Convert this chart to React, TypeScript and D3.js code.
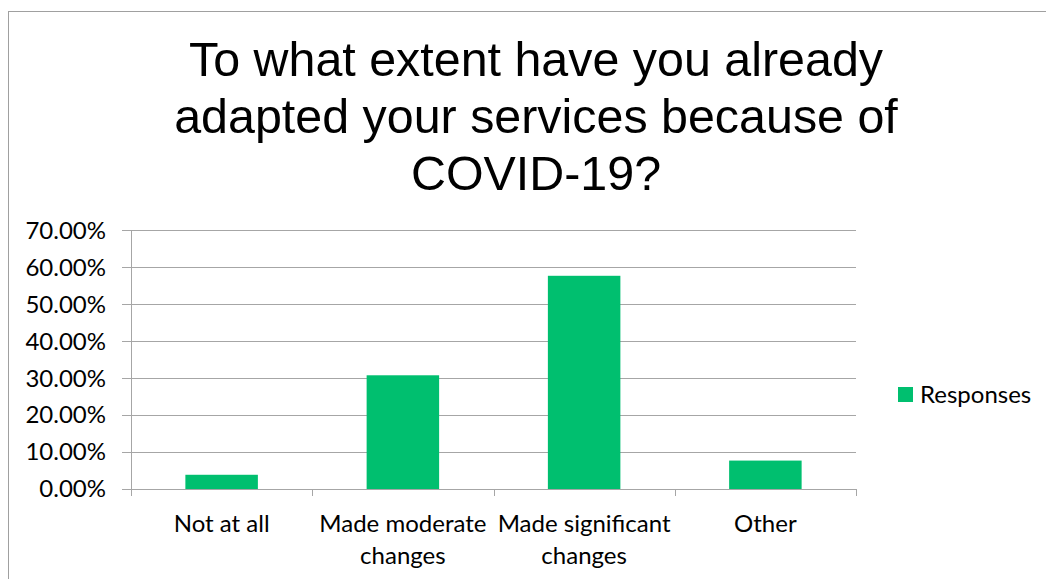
import React from "react";
import * as d3 from "d3";

const titleLines = ["To what extent have you already", "adapted your services because of", "COVID-19?"];
const categories = ["Not at all", "Made moderate changes", "Made significant changes", "Other"];
const categoryLines = [["Not at all"], ["Made moderate", "changes"], ["Made significant", "changes"], ["Other"]];
const values = [0.0385, 0.3077, 0.5769, 0.0769];
const yTicks = [0, 0.1, 0.2, 0.3, 0.4, 0.5, 0.6, 0.7];
const seriesName = "Responses";

const W = 1046;
const H = 579;
const plot = { left: 131, right: 856, top: 230.3, bottom: 489 };
const GREEN = "#00bf6f";
const GRID = "#a6a6a6";
const LABEL_FONT = "Lato, 'Open Sans', sans-serif";
const LABEL_SIZE = 24;

export default function App() {
  const x = d3.scaleBand<string>().domain(categories).range([plot.left, plot.right]).paddingInner(0.6).paddingOuter(0.3);
  const xOuter = d3.scaleBand<string>().domain(categories).range([plot.left, plot.right]);
  const y = d3.scaleLinear().domain([0, 0.7]).range([plot.bottom, plot.top]);
  const fmt = (v: number) => d3.format(".2f")(v * 100) + "%";
  return (
    <svg width={W} height={H} style={{ position: "absolute", left: 0, top: 0, background: "#fff" }}>
      <rect x={8.5} y={11.5} width={W + 20} height={H + 20} fill="#fff" stroke="#a0a0a0" strokeWidth={1} />
      <g fontFamily="'Liberation Sans', Arial, sans-serif" fontSize={48.4} fill="#000" textAnchor="middle">
        {titleLines.map((t, i) => (
          <text key={i} x={536} y={76 + i * 57}>{t}</text>
        ))}
      </g>
      {yTicks.map((t) => (
        <g key={t}>
          <line x1={122} x2={plot.right} y1={Math.round(y(t)) + 0.5} y2={Math.round(y(t)) + 0.5} stroke={GRID} strokeWidth={1} />
          <text x={106} y={y(t)} dy="0.35em" textAnchor="end" fontFamily={LABEL_FONT} fontSize={LABEL_SIZE} fill="#000">{fmt(t)}</text>
        </g>
      ))}
      <line x1={plot.left + 0.5} x2={plot.left + 0.5} y1={plot.top} y2={plot.bottom + 7} stroke={GRID} />
      {categories.map((c, i) => (
        <line key={"t" + i} x1={Math.round((xOuter(c) as number) + xOuter.bandwidth()) + 0.5} x2={Math.round((xOuter(c) as number) + xOuter.bandwidth()) + 0.5} y1={plot.bottom} y2={plot.bottom + 7} stroke={GRID} />
      ))}
      {categories.map((c, i) => (
        <rect key={"b" + i} x={x(c)} y={y(values[i])} width={x.bandwidth()} height={plot.bottom - y(values[i])} fill={GREEN} />
      ))}
      {categories.map((c, i) => (
        <text key={"l" + i} x={(xOuter(c) as number) + xOuter.bandwidth() / 2} y={532} textAnchor="middle" fontFamily={LABEL_FONT} fontSize={LABEL_SIZE} fill="#000">
          {categoryLines[i].map((ln, j) => (
            <tspan key={j} x={(xOuter(c) as number) + xOuter.bandwidth() / 2} dy={j === 0 ? 0 : 32}>{ln}</tspan>
          ))}
        </text>
      ))}
      <rect x={898} y={387} width={15} height={15} fill={GREEN} />
      <text x={920} y={395} dy="0.35em" fontFamily={LABEL_FONT} fontSize={LABEL_SIZE} fill="#000">{seriesName}</text>
    </svg>
  );
}
